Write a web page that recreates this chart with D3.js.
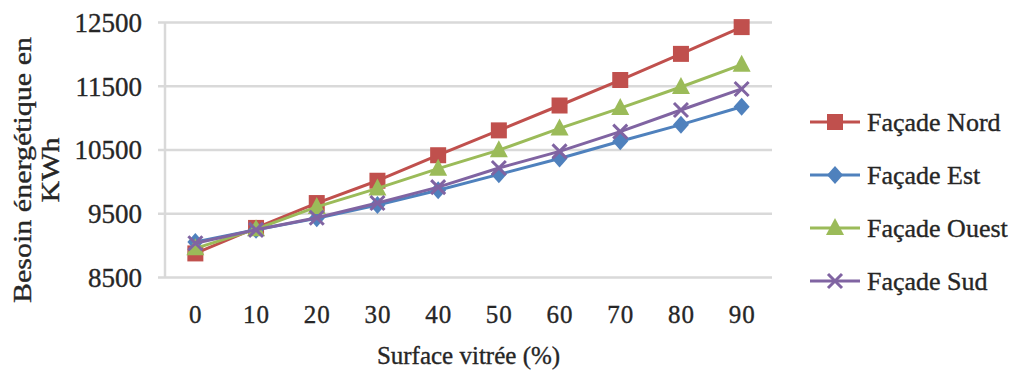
<!DOCTYPE html>
<html>
<head>
<meta charset="utf-8">
<script src="https://cdn.jsdelivr.net/npm/d3@7"></script>
<style>
  body { margin: 0; background: #fff; }
  svg text { font-family: "Liberation Serif", "DejaVu Serif", serif; fill: #262626; stroke: #262626; stroke-width: 0.35; }
</style>
</head>
<body>
<svg width="1016" height="379"></svg>
<script>
// surface vitrée (%)
var categories = [0, 10, 20, 30, 40, 50, 60, 70, 80, 90];
var yTicks = [8500, 9500, 10500, 11500, 12500];

// besoin énergétique (kWh)
var nord  = [8870, 9270, 9660, 10010, 10410, 10800, 11190, 11590, 12000, 12420];
var est   = [9050, 9240, 9420, 9630, 9860, 10110, 10360, 10630, 10890, 11170];
var ouest = [8950, 9250, 9600, 9890, 10200, 10490, 10830, 11150, 11480, 11830];
var sud   = [9030, 9240, 9430, 9660, 9910, 10210, 10470, 10780, 11120, 11450];

var seriesNames = ["Façade Nord", "Façade Est", "Façade Ouest", "Façade Sud"];
var seriesValues = [nord, est, ouest, sud];
var colors = ["#C0504D", "#4F81BD", "#9BBB59", "#8064A2"];
var shapes = ["square", "diamond", "triangle", "cross"];

var svg = d3.select("svg"),
    margin = {top: 22, right: 244, bottom: 102, left: 165},
    width = 1016 - margin.left - margin.right,
    height = 379 - margin.top - margin.bottom,
    g = svg.append("g").attr("transform", "translate(" + margin.left + "," + margin.top + ")");

var x = d3.scalePoint()
    .domain(categories)
    .range([0, width])
    .padding(0.5);

var y = d3.scaleLinear()
    .domain([8500, 12500])
    .range([height, 0]);

// gridlines + y axis
var yAxis = g.append("g")
    .call(d3.axisLeft(y).tickValues(yTicks).tickFormat(d3.format("d")).tickSize(-width).tickPadding(23));
yAxis.select(".domain").remove();
yAxis.selectAll(".tick line")
    .attr("x1", -7)
    .attr("x2", width)
    .attr("stroke", "#d9d9d9")
    .attr("stroke-width", 2.5);
yAxis.selectAll("text")
    .attr("x", -23)
    .attr("font-size", 27)
    .attr("dy", "0.35em");

g.append("line")
    .attr("x1", 0).attr("x2", 0)
    .attr("y1", 0).attr("y2", height)
    .attr("stroke", "#d9d9d9")
    .attr("stroke-width", 2.5);

// x axis labels
var xAxis = g.append("g")
    .attr("transform", "translate(0," + height + ")")
    .call(d3.axisBottom(x).tickSize(0).tickPadding(28));
xAxis.select(".domain").remove();
xAxis.selectAll("text")
    .attr("font-size", 25)
    .attr("letter-spacing", 1);

// axis titles
svg.append("text")
    .attr("x", margin.left + width / 2)
    .attr("y", 364)
    .attr("text-anchor", "middle")
    .attr("font-size", 25)
    .text("Surface vitrée (%)");

var yTitle = svg.append("text")
    .attr("transform", "translate(31,170) rotate(-90) scale(1.2,1)")
    .attr("text-anchor", "middle")
    .attr("font-size", 25);
yTitle.append("tspan").attr("x", 0).attr("dy", 0).text("Besoin  énergétique en");
yTitle.append("tspan").attr("x", 0).attr("dy", 28).text("KWh");

var line = d3.line()
    .x(function(d, i) { return x(categories[i]); })
    .y(function(d) { return y(d); });

function marker(sel, shape, color) {
  if (shape === "square") {
    sel.append("rect").attr("x", -8).attr("y", -8).attr("width", 16).attr("height", 16).attr("fill", color);
  } else if (shape === "diamond") {
    sel.append("path").attr("d", "M0,-9L8,0L0,9L-8,0Z").attr("fill", color);
  } else if (shape === "triangle") {
    sel.append("path").attr("d", "M0,-10L9,7L-9,7Z").attr("fill", color);
  } else {
    sel.append("path").attr("d", "M-7,-7L7,7M-7,7L7,-7").attr("stroke", color).attr("stroke-width", 3).attr("fill", "none");
  }
}

seriesValues.forEach(function(vals, s) {
  g.append("path")
      .datum(vals)
      .attr("fill", "none")
      .attr("stroke", colors[s])
      .attr("stroke-width", 3)
      .attr("stroke-linejoin", "round")
      .attr("d", line);
  vals.forEach(function(v, i) {
    var m = g.append("g").attr("transform", "translate(" + x(categories[i]) + "," + y(v) + ")");
    marker(m, shapes[s], colors[s]);
  });
});

// legend
var legend = svg.append("g").attr("transform", "translate(810,122)");
seriesNames.forEach(function(name, s) {
  var row = legend.append("g").attr("transform", "translate(0," + (s * 53) + ")");
  row.append("line")
      .attr("x1", 0).attr("x2", 50)
      .attr("stroke", colors[s])
      .attr("stroke-width", 3);
  var m = row.append("g").attr("transform", "translate(25,0)");
  marker(m, shapes[s], colors[s]);
  row.append("text")
      .attr("x", 57)
      .attr("dy", "0.35em")
      .attr("font-size", 26)
      .text(name);
});
</script>
</body>
</html>
